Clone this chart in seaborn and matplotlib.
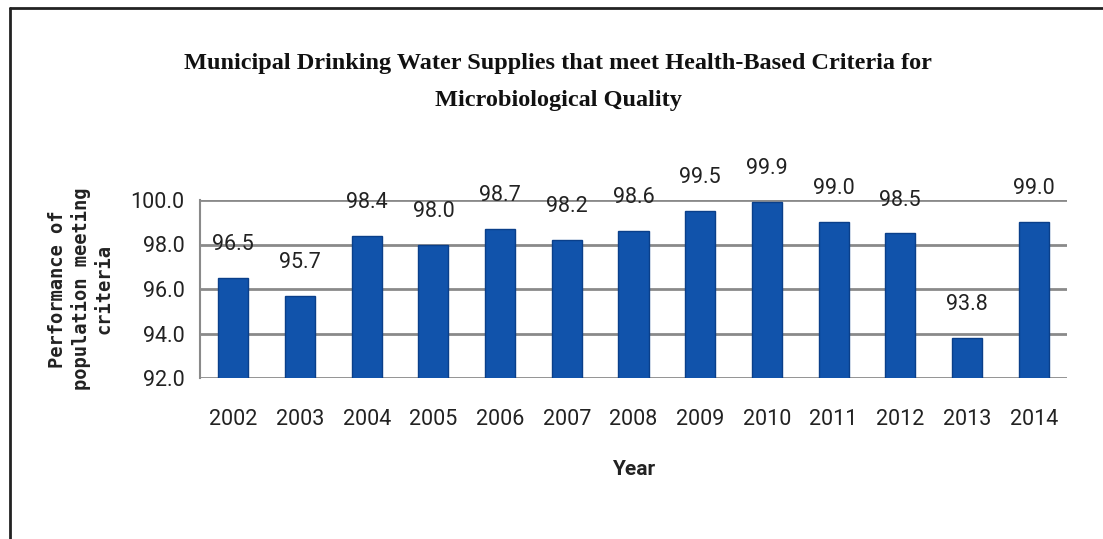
import matplotlib
matplotlib.use("Agg")
import matplotlib.pyplot as plt
from matplotlib.lines import Line2D
import seaborn as sns
import pandas as pd

years = ["2002", "2003", "2004", "2005", "2006", "2007", "2008",
         "2009", "2010", "2011", "2012", "2013", "2014"]
values = [96.5, 95.7, 98.4, 98.0, 98.7, 98.2, 98.6,
          99.5, 99.9, 99.0, 98.5, 93.8, 99.0]
yticks = [92.0, 94.0, 96.0, 98.0, 100.0]

title = "Municipal Drinking Water Supplies that meet Health-Based Criteria for\nMicrobiological Quality"
ylabel = "Performance of\npopulation meeting\ncriteria"
xlabel = "Year"

sns.set_style("white")
plt.rcParams["font.family"] = ["Roboto", "DejaVu Sans"]

df = pd.DataFrame({"Year": years, "Value": values})

fig = plt.figure(figsize=(11.03, 5.39), dpi=100)
ax = fig.add_axes([200 / 1103, 1 - 378 / 539, 867 / 1103, 178 / 539])

sns.barplot(data=df, x="Year", y="Value", ax=ax, color="#1153ab",
            width=0.45, edgecolor="#0a3f8a", linewidth=1.0, saturation=1,
            zorder=3)
ax.set_ylim(92, 100)
ax.set_yticks(yticks)
ax.set_yticklabels([f"{v:.1f}" for v in yticks], fontsize=15.5, color="#222222")
ax.tick_params(axis="y", length=8, width=1.5, color="#8a8a8a", pad=3)
ax.tick_params(axis="x", length=0, pad=22, labelsize=15.5, labelcolor="#222222")

for y in yticks:
    ax.axhline(y, color="#8a8a8a", lw=2, zorder=1)

for s in ["top", "right", "bottom"]:
    ax.spines[s].set_visible(False)
ax.spines["left"].set_color("#8a8a8a")
ax.spines["left"].set_linewidth(1.5)

for i, v in enumerate(values):
    ax.annotate(f"{v:.1f}", (i, v), xytext=(0, 24), textcoords="offset points",
                ha="center", va="center", fontsize=15.5, color="#222222",
                annotation_clip=False, zorder=5)

ax.set_xlabel(xlabel, fontsize=15, fontweight="bold", color="#222222", labelpad=22)
ax.set_ylabel(ylabel, fontsize=13.5, fontweight="bold", color="#222222",
              family=["DejaVu Sans Mono"], linespacing=1.25, labelpad=12)

fig.text(558 / 1103, 1 - 82 / 539, title, ha="center", va="center",
         fontsize=17.5, fontweight="bold", family=["Liberation Serif", "DejaVu Serif"],
         linespacing=2.0, color="#111111")

fig.add_artist(Line2D([10 / 1103, 10 / 1103], [0, 1 - 8 / 539],
                      transform=fig.transFigure, color="#222222", lw=2))
fig.add_artist(Line2D([10 / 1103, 1], [1 - 8 / 539, 1 - 8 / 539],
                      transform=fig.transFigure, color="#222222", lw=2))

fig.savefig("out.png", dpi=100, facecolor="white")
